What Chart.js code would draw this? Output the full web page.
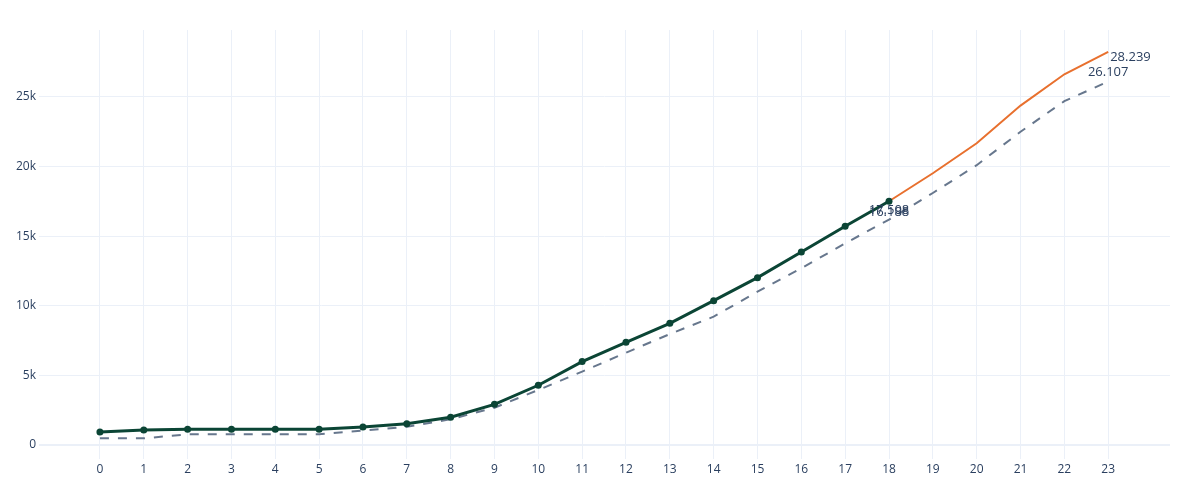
<!DOCTYPE html>
<html lang="en">
<head>
<meta charset="UTF-8">
<title>line chart</title>
<style>
  body { margin: 0; background: #fff; }
</style>
</head>
<body>
<div style="width: 1200px; height: 500px;">
  <canvas id="myChart"></canvas>
</div>
<script src="https://cdn.jsdelivr.net/npm/chart.js"></script>
<script>
// x categories (0..23)
const categories = [0, 1, 2, 3, 4, 5, 6, 7, 8, 9, 10, 11, 12, 13, 14, 15, 16, 17, 18, 19, 20, 21, 22, 23];

// actual values (0..18)
const actual = [930, 1080, 1130, 1130, 1130, 1130, 1290, 1530, 1990, 2920, 4290, 5990, 7380, 8740,
                10370, 12020, 13860, 15710, 17508];

// forecast continuation (18..23)
const forecastStart = 18;
const forecast = [17508, 19520, 21670, 24380, 26630, 28239];

// dashed reference line (0..23)
const reference = [480, 480, 770, 770, 770, 770, 1030, 1310, 1850, 2680, 3950, 5270, 6630, 7970,
                   9220, 11010, 12690, 14490, 16188, 18100, 20100, 22500, 24700, 26107];

const yTicks = [0, 5000, 10000, 15000, 20000, 25000];

// value labels shown on the chart
const valueLabels = [
    { text: "17.508", x: 18, y: 17508, dx: 0, dy: 9, align: "center" },
    { text: "16.188", x: 18, y: 16188, dx: 0, dy: -7, align: "center" },
    { text: "28.239", x: 23, y: 28239, dx: 2, dy: 5, align: "left" },
    { text: "26.107", x: 23, y: 26107, dx: 0, dy: -9, align: "center" }
];

const textColor = "#2a3f5f";
const gridColor = "#ebf0f8";

const toPoints = (vals, start) => vals.map((v, i) => ({ x: categories[start + i], y: v }));

const labelPlugin = {
    id: "valueLabels",
    afterDatasetsDraw(chart) {
        const c = chart.ctx;
        const xs = chart.scales.x, ys = chart.scales.y;
        c.save();
        c.font = '13px "Open Sans"';
        c.fillStyle = textColor;
        c.textBaseline = "middle";
        valueLabels.forEach(l => {
            c.textAlign = l.align;
            c.fillText(l.text, xs.getPixelForValue(l.x) + l.dx, ys.getPixelForValue(l.y) + l.dy);
        });
        c.restore();
    }
};

const ctx = document.getElementById('myChart');
const myChart = new Chart(ctx, {
    type: 'line',
    data: {
        datasets: [{
            label: 'actual',
            data: toPoints(actual, 0),
            borderColor: "#0b4535",
            backgroundColor: "#0b4535",
            borderWidth: 3,
            pointRadius: 3.5,
            pointBorderWidth: 0,
            tension: 0
        }, {
            label: 'forecast',
            data: toPoints(forecast, forecastStart),
            borderColor: "#e8702e",
            borderWidth: 2,
            pointRadius: 0,
            tension: 0
        }, {
            label: 'reference',
            data: toPoints(reference, 0),
            borderColor: "#67778d",
            borderWidth: 2,
            borderDash: [9, 9],
            pointRadius: 0,
            tension: 0
        }]
    },
    options: {
        responsive: true,
        maintainAspectRatio: false,
        animation: false,
        layout: { padding: { top: 30, right: 30, left: 0, bottom: 0 } },
        plugins: {
            legend: { display: false },
            tooltip: { enabled: false }
        },
        scales: {
            x: {
                type: 'linear',
                min: -1.39,
                max: 24.41,
                afterBuildTicks: s => { s.ticks = categories.map(v => ({ value: v })); },
                afterFit: s => { s.height = 41; },
                ticks: {
                    stepSize: 1,
                    includeBounds: false,
                    padding: 3,
                    color: textColor,
                    font: { family: '"Open Sans"', size: 12 },
                    maxRotation: 0
                },
                grid: { color: gridColor, lineWidth: 1, drawTicks: false },
                border: { display: false }
            },
            y: {
                min: -1006,
                max: 29810,
                afterBuildTicks: s => { s.ticks = yTicks.map(v => ({ value: v })); },
                afterFit: s => { s.width = 39; },
                ticks: {
                    padding: 3,
                    color: textColor,
                    font: { family: '"Open Sans"', size: 12 },
                    callback: v => v === 0 ? "0" : (v / 1000) + "k"
                },
                grid: {
                    color: gridColor,
                    lineWidth: c => c.tick && c.tick.value === 0 ? 2 : 1,
                    drawTicks: false
                },
                border: { display: false }
            }
        }
    },
    plugins: [labelPlugin]
});
</script>
</body>
</html>
